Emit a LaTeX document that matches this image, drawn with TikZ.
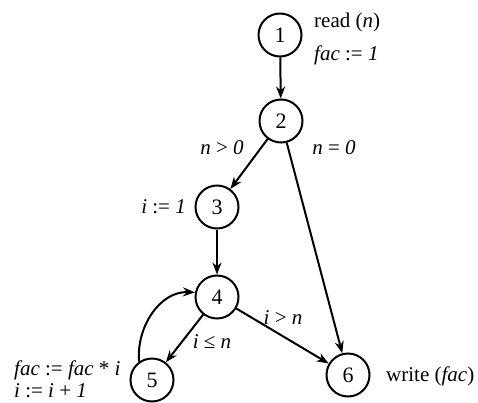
\documentclass[tikz,border=0pt]{standalone}
\usepackage{fontspec}
\setmainfont{Liberation Serif}
\usetikzlibrary{arrows.meta}
\begin{document}
\begin{tikzpicture}[x=1pt,y=-1pt,
  vtx/.style={circle,draw,line width=2pt,minimum size=43pt,inner sep=0pt,font=\fontsize{22}{24}\selectfont},
  lbl/.style={inner sep=0pt,font=\fontsize{21}{25}\selectfont},
  edge/.style={line width=2pt,-{Stealth[length=12pt,width=9pt]}}]
\useasboundingbox (0,0) rectangle (478,403);
\node[vtx] (n1) at (280,35) {1};
\node[vtx] (n2) at (281,121) {2};
\node[vtx] (n3) at (217,207) {3};
\node[vtx] (n4) at (217,297) {4};
\node[vtx] (n5) at (152,380) {5};
\node[vtx] (n6) at (348,375) {6};
\node[lbl,anchor=west] (t1) at (314,22) {read (\textit{n})};
\node[lbl,anchor=west] (t1b) at (314,55) {\textit{fac} := \textit{1}};
\node[lbl,anchor=east] (t3) at (186,207) {\textit{i} := \textit{1}};
\node[lbl,anchor=west] (t6) at (386,376) {write (\textit{fac})};
\node[lbl,anchor=west] (t5a) at (14,370) {\textit{fac} := \textit{fac} * \textit{i}};
\node[lbl,anchor=west] (t5b) at (14,391) {\textit{i} := \textit{i} + \textit{1}};
\node[lbl] (l20) at (222,148) {\textit{n} > \textit{0}};
\node[lbl] (l26) at (334,148) {\textit{n} = \textit{0}};
\node[lbl] (l46) at (283,318) {\textit{i} > \textit{n}};
\node[lbl] (l45) at (212,342) {\textit{i} ≤ \textit{n}};
\draw[edge] (n1) -- (n2);
\draw[edge] (n2) -- (n3);
\draw[edge] (n2) -- (n6);
\draw[edge] (n3) -- (n4);
\draw[edge] (n4) -- (n5);
\draw[edge] (n4) -- (n6);
\draw[edge] (n5.125) to[out=95,in=178] (n4.168);
\end{tikzpicture}
\end{document}
